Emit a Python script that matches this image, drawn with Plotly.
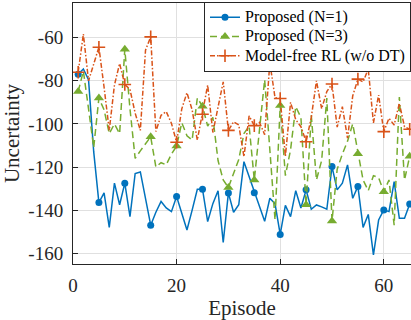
import plotly.graph_objects as go

episodes = list(range(1, 66))

proposed_n1 = [-77, -74.5, -79.5, -113, -136.5, -132, -148, -127.5, -137.5, -127.5,
               -143, -123, -122.3, -134, -147, -141, -136, -139, -140.7, -133.7,
               -141, -149.2, -140, -130.3, -130.3, -145.3, -137, -131, -155, -132,
               -141, -137.5, -117.5, -124.5, -131.9, -138, -145.2, -134.5, -137, -151.3,
               -137.8, -143, -131, -139, -130.6, -139.6, -137.6, -138.5, -139.6, -119.8,
               -130.6, -127.5, -119, -134.5, -129, -148, -142, -160.8, -144.6, -139.9,
               -140.7, -126.8, -143.8, -143.8, -137.2]

proposed_n3 = [-85, -75.5, -93, -111, -88, -93.5, -104.5, -100, -104.5, -65.4,
               -93, -116, -112.5, -109, -106, -120, -118, -119, -114, -110.3,
               -99.5, -105.5, -107.5, -88, -91.8, -101, -97, -117, -126, -129.5,
               -122.5, -116.5, -104.5, -101, -126, -103, -79.5, -112, -144.5, -91.5,
               -124, -112, -92, -97, -137.5, -96, -126, -117, -88, -145,
               -121, -114, -108, -100, -113.8, -126, -131, -124, -125, -131.5,
               -126, -147, -87.5, -126, -115]

model_free = [-76, -58.3, -80, -72, -64.4, -83, -103, -82, -72, -81.7,
              -84, -95, -103, -65.8, -59.6, -103.5, -96, -94.3, -99.7, -108.5,
              -93, -85.5, -93.5, -107.5, -95.5, -82, -104, -92, -80.5, -103,
              -99, -100.5, -115.2, -96.3, -100.8, -99.3, -105, -71.5, -87.8, -88.2,
              -115, -90, -98, -101.3, -108.3, -97, -80, -93, -85, -81.5,
              -101.5, -92, -106.6, -87, -79.2, -80.5, -74.5, -99.5, -86.6, -103.6,
              -97.4, -100.5, -90.5, -101.3, -102.5]

marker_episodes = [1, 5, 10, 15, 20, 25, 30, 35, 40, 45, 50, 55, 60, 65]

series_names = ["Proposed (N=1)", "Proposed (N=3)", "Model-free RL (w/o DT)"]

x_ticks = [0, 20, 40, 60]
x_ticklabels = ["0", "20", "40", "60"]
y_ticks = [-160, -140, -120, -100, -80, -60]
y_ticklabels = ["-160", "-140", "-120", "-100", "-80", "-60"]

blue = "#0072BD"
green = "#77AC30"
red = "#D95319"
axc = "#262626"
font = "Liberation Serif"

styles = [
    dict(y=proposed_n1, color=blue, dash="solid", symbol="circle", size=7, mlw=0),
    dict(y=proposed_n3, color=green, dash="7px,4px", symbol="triangle-up", size=9, mlw=0),
    dict(y=model_free, color=red, dash="5px,2px,1.5px,2px", symbol="cross-thin", size=9, mlw=1.6),
]

fig = go.Figure()
for name, s in zip(series_names, styles):
    fig.add_trace(go.Scatter(
        x=episodes, y=s["y"], mode="lines", showlegend=False, hoverinfo="skip",
        line=dict(color=s["color"], width=1.5, dash=s["dash"]),
    ))
    mx = marker_episodes
    my = [s["y"][e - 1] for e in mx]
    fig.add_trace(go.Scatter(
        x=mx, y=my, mode="markers", showlegend=False, hoverinfo="skip",
        marker=dict(symbol=s["symbol"], size=s["size"], color=s["color"],
                    line=dict(color=s["color"], width=s["mlw"])),
    ))
for name, s in zip(series_names, styles):
    fig.add_trace(go.Scatter(
        x=[None], y=[None], mode="lines+markers",
        name='<span style="font-size:16px">' + name + "</span>",
        line=dict(color=s["color"], width=1.5, dash=s["dash"]),
        marker=dict(symbol=s["symbol"], size=s["size"], color=s["color"],
                    line=dict(color=s["color"], width=s["mlw"])),
    ))

fig.update_layout(
    width=411, height=320,
    margin=dict(l=73, r=0, t=3, b=56),
    paper_bgcolor="white", plot_bgcolor="white",
    font=dict(family=font, color=axc),
    showlegend=True,
    legend=dict(
        x=1, xanchor="right", y=1.005, yanchor="top",
        bgcolor="white", bordercolor=axc, borderwidth=1,
        font=dict(family=font, size=12.5, color="black"),
        itemwidth=30, traceorder="normal",
    ),
    xaxis=dict(
        range=[0, 65.25], tickvals=x_ticks, ticktext=x_ticklabels,
        showgrid=True, gridcolor="#e0e0e0", gridwidth=1,
        showline=True, linecolor=axc, linewidth=1, mirror=True,
        ticks="inside", ticklen=5, tickcolor=axc,
        tickfont=dict(family=font, size=19, color=axc),
        ticklabelstandoff=4, automargin=False,
        zeroline=False,
        title=dict(text="Episode", font=dict(family=font, size=21, color=axc), standoff=3),
    ),
    yaxis=dict(
        range=[-165, -43.9], tickvals=y_ticks, ticktext=y_ticklabels,
        showgrid=True, gridcolor="#e0e0e0", gridwidth=1,
        showline=True, linecolor=axc, linewidth=1, mirror=False,
        ticks="inside", ticklen=5, tickcolor=axc,
        tickfont=dict(family=font, size=19, color=axc),
        ticklabelstandoff=5, automargin=False,
        zeroline=False,
        title=dict(text="Uncertainty", font=dict(family=font, size=21, color=axc), standoff=6),
    ),
)

fig.write_html("out.html", config={"displayModeBar": False},
               post_script="document.body.style.margin='0px';document.body.style.overflow='hidden';")
